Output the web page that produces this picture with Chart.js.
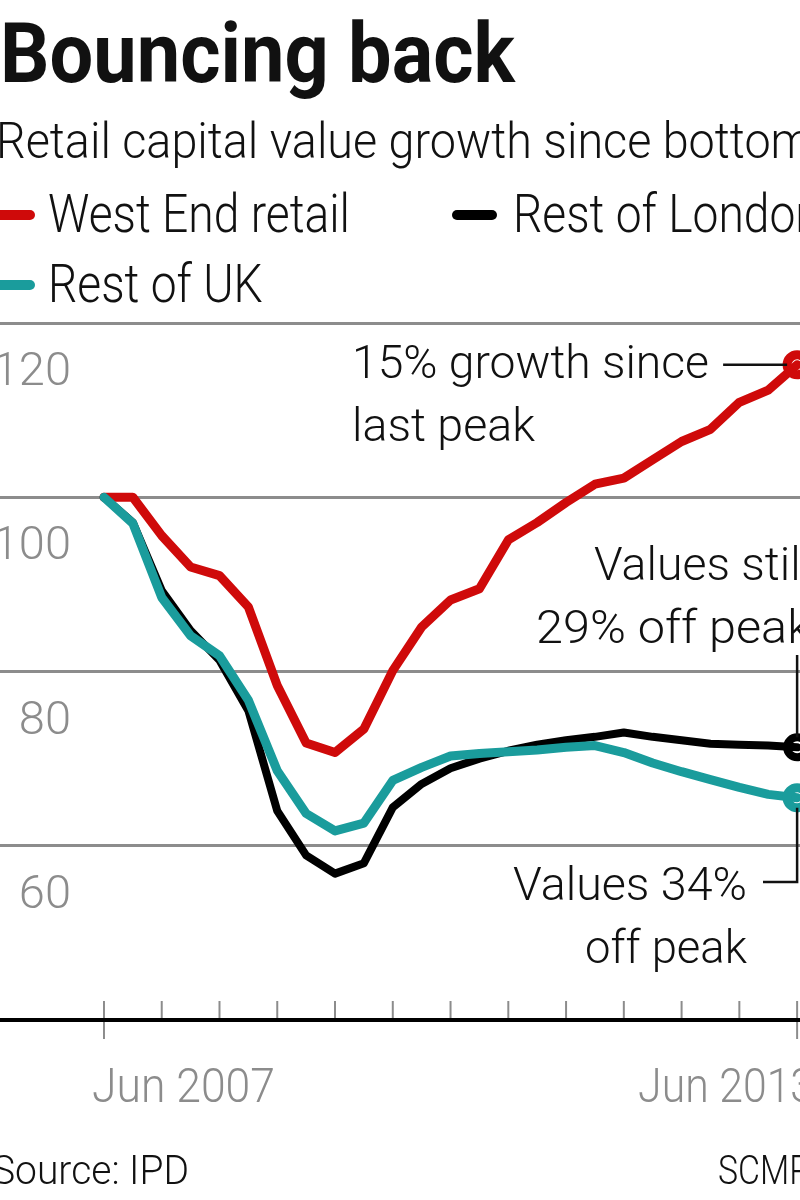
<!DOCTYPE html>
<html>
<head>
<meta charset="utf-8">
<title>Bouncing back</title>
<script src="https://cdn.jsdelivr.net/npm/chart.js@4/dist/chart.umd.min.js"></script>
<style>
  html, body { margin: 0; padding: 0; background: #fff; }
  body { width: 800px; height: 1200px; overflow: hidden; position: relative; font-family: Roboto, sans-serif; color: #111; }
  #wrap { position: absolute; left: 0; top: 0; width: 800px; height: 1200px; }
  .t { position: absolute; white-space: nowrap; line-height: 1; transform-origin: 0 0; }
  .light { font-weight: 300; }
  .key { position: absolute; height: 10px; border-radius: 5px; }
</style>
</head>
<body>
<div id="wrap"><canvas id="chart"></canvas></div>

<div class="t" id="title" style="left:0; top:12px; font-size:84px; font-weight:700;">Bouncing back</div>
<div class="t light" id="subtitle" style="left:-4px; top:116px; font-size:50px;">Retail capital value growth since bottom</div>

<div class="key" style="left:-12px; top:210px; width:47px; background:#cf0a0a;"></div>
<div class="t light leg" id="legWest" style="left:48px; top:188px; font-size:53px;">West End retail</div>
<div class="key" style="left:452px; top:210px; width:45px; background:#000;"></div>
<div class="t light leg" id="legLondon" style="left:513px; top:188px; font-size:53px;">Rest of London</div>
<div class="key" style="left:-12px; top:280px; width:47px; background:#1a9c9c;"></div>
<div class="t light leg" id="legUK" style="left:48px; top:258px; font-size:53px;">Rest of UK</div>

<div class="t light" id="source" style="left:-8px; top:1151px; font-size:40px;">Source: IPD</div>
<div class="t light" id="credit" style="left:718px; top:1151px; font-size:40px;">SCMP</div>

<script>
// quarterly index, bottom of the market = 100 (Jun 2007)
const quarters = ['Jun 2007', 'Sep 2007', 'Dec 2007', 'Mar 2008', 'Jun 2008', 'Sep 2008', 'Dec 2008',
  'Mar 2009', 'Jun 2009', 'Sep 2009', 'Dec 2009', 'Mar 2010', 'Jun 2010', 'Sep 2010', 'Dec 2010',
  'Mar 2011', 'Jun 2011', 'Sep 2011', 'Dec 2011', 'Mar 2012', 'Jun 2012', 'Sep 2012', 'Dec 2012',
  'Mar 2013', 'Jun 2013'];
const westEnd = [100, 100, 95.6, 92.0, 91.0, 87.4, 78.4, 71.8, 70.7, 73.4, 80.1, 85.1, 88.2,
  89.5, 95.1, 97.1, 99.4, 101.5, 102.2, 104.3, 106.4, 107.8, 110.9, 112.3, 115.2];
const restOfLondon = [100, 97.1, 89.3, 84.7, 81.3, 75.5, 64.0, 58.9, 56.8, 58.0, 64.4, 67.1, 68.9,
  70.0, 70.9, 71.6, 72.1, 72.5, 73.0, 72.5, 72.1, 71.7, 71.6, 71.5, 71.3];
const restOfUK = [100, 97.0, 88.5, 84.1, 81.8, 76.7, 68.6, 63.7, 61.7, 62.6, 67.5, 69.0, 70.3,
  70.6, 70.8, 71.0, 71.3, 71.5, 70.7, 69.5, 68.5, 67.6, 66.7, 65.9, 65.5];
const yTicks = [60, 80, 100, 120];
const xTicks = [0, 2, 4, 6, 8, 10, 12, 14, 16, 18, 20, 22, 24];   // every six months
const xLabels = { 0: 'Jun 2007', 24: 'Jun 2013' };

const RED = '#cf0a0a';
const TEAL = '#1a9c9c';
const GREY = '#8c8c8c';

// squeeze the html text to the width it has in the print graphic
function squeeze(id, width) {
  const el = document.getElementById(id);
  const k = width / el.getBoundingClientRect().width;
  el.style.transform = 'scaleX(' + k + ')';
  return k;
}

function text(ctx, str, x, y, size, width, align, color) {
  ctx.save();
  ctx.font = '300 ' + size + 'px Roboto';
  const k = width ? width / ctx.measureText(str).width : 1;
  ctx.translate(x, y);
  ctx.scale(k, 1);
  ctx.textAlign = align || 'left';
  ctx.textBaseline = 'alphabetic';
  ctx.fillStyle = color || '#111';
  ctx.fillText(str, 0, 0);
  ctx.restore();
}

function seg(ctx, pts, color, width) {
  ctx.save();
  ctx.strokeStyle = color;
  ctx.lineWidth = width;
  ctx.beginPath();
  ctx.moveTo(pts[0], pts[1]);
  for (let i = 2; i < pts.length; i += 2) ctx.lineTo(pts[i], pts[i + 1]);
  ctx.stroke();
  ctx.restore();
}

const series = vals => vals.map((v, i) => ({ x: i, y: v }));
const last = quarters.length - 1;

const decor = {
  id: 'decor',
  beforeDraw(chart) {
    const { ctx, scales: { x }, chartArea } = chart;
    const base = chartArea.bottom;
    xTicks.forEach(t => {
      const px = x.getPixelForValue(t);
      seg(ctx, [px, base - 19, px, xLabels[t] ? base + 19 : base], GREY, 2);
    });
  },
  afterDraw(chart) {
    const { ctx, scales: { x, y } } = chart;

    yTicks.forEach(v => {
      text(ctx, String(v), 71, y.getPixelForValue(v) + 62, 47, null, 'right', GREY);
    });
    text(ctx, xLabels[0], x.getPixelForValue(0) - 12, 1102, 49, 183, 'left', GREY);
    text(ctx, xLabels[24], x.getPixelForValue(24) - 159, 1102, 49, 176, 'left', GREY);

    const ex = x.getPixelForValue(last);
    const yW = y.getPixelForValue(westEnd[last]);
    const yL = y.getPixelForValue(restOfLondon[last]);
    const yU = y.getPixelForValue(restOfUK[last]);

    seg(ctx, [ex - 74, yW, ex - 10, yW], '#111', 2.5);
    text(ctx, '15% growth since', 352, 378, 47, 357);
    text(ctx, 'last peak', 352, 441, 47, 183);

    seg(ctx, [ex, yL - 10, ex, 655], '#111', 2.5);
    text(ctx, 'Values still', 811, 580, 47, 217, 'right');
    text(ctx, '29% off peak', 811, 643, 47, 275, 'right');

    seg(ctx, [ex, yU + 10, ex, 882, 763, 882], '#111', 2.5);
    text(ctx, 'Values 34%', 747, 900, 47, 234, 'right');
    text(ctx, 'off peak', 747, 963, 47, 162, 'right');
  }
};

const endRing = c => (c.dataIndex === last ? 10 : 0);

new Chart(document.getElementById('chart'), {
  type: 'line',
  data: {
    datasets: [
      { label: 'West End retail', data: series(westEnd), borderColor: RED, borderWidth: 9, order: 3 },
      { label: 'Rest of London', data: series(restOfLondon), borderColor: '#000', borderWidth: 8, order: 2 },
      { label: 'Rest of UK', data: series(restOfUK), borderColor: TEAL, borderWidth: 9, order: 1 }
    ]
  },
  options: {
    responsive: true,
    maintainAspectRatio: false,
    animation: false,
    layout: { autoPadding: false, padding: { top: 323, bottom: 180, left: 0, right: 0 } },
    elements: {
      line: { tension: 0, borderJoinStyle: 'round', borderCapStyle: 'round' },
      point: {
        radius: endRing,
        hoverRadius: endRing,
        borderColor: '#111',
        borderWidth: 2.5,
        backgroundColor: 'rgba(0,0,0,0)'
      }
    },
    plugins: { legend: { display: false }, tooltip: { enabled: false } },
    scales: {
      x: {
        type: 'linear',
        min: -3.6,
        max: 24.1,
        ticks: { display: false },
        grid: { drawOnChartArea: false, drawTicks: false },
        border: { color: '#000', width: 4 }
      },
      y: {
        min: 40,
        max: 120,
        ticks: { display: false, stepSize: 20 },
        grid: {
          color: c => (c.tick.value === 40 ? 'rgba(0,0,0,0)' : GREY),
          lineWidth: 3,
          drawTicks: false
        },
        border: { display: false }
      }
    }
  },
  plugins: [decor]
});

squeeze('title', 515);
squeeze('subtitle', 816);
const k = squeeze('legWest', 302);
['legLondon', 'legUK'].forEach(id => {
  document.getElementById(id).style.transform = 'scaleX(' + k + ')';
});
squeeze('source', 197);
squeeze('credit', 92);
</script>
</body>
</html>
